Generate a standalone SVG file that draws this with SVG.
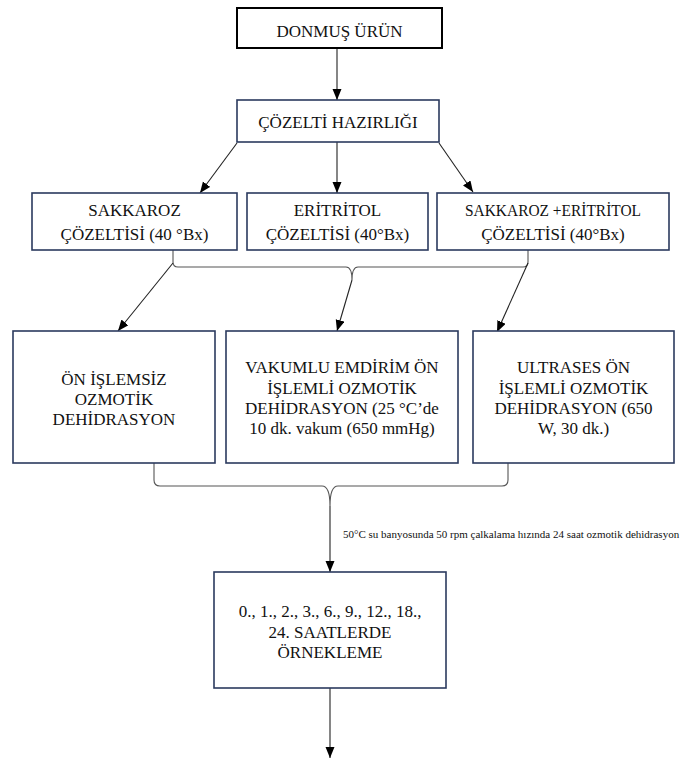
<svg xmlns="http://www.w3.org/2000/svg" width="681" height="762" viewBox="0 0 681 762">
<style>
.box{fill:#fff;stroke:#2b3a5e;stroke-width:1.6}
.box0{fill:#fff;stroke:#000;stroke-width:2}
.t{font-family:"Liberation Serif","Times New Roman",serif;font-size:17px;fill:#111;text-anchor:middle}
.lbl{font-family:"Liberation Serif","Times New Roman",serif;font-size:11px;fill:#111}
.c{fill:none;stroke:#222;stroke-width:1.1}
.b{fill:none;stroke:#555;stroke-width:1.1}
</style>
<defs>
<marker id="ah" markerUnits="userSpaceOnUse" markerWidth="12" markerHeight="10" refX="11" refY="4.5" orient="auto">
<path d="M0,0 L11,4.5 L0,9 z" fill="#000"/>
</marker>
</defs>
<rect width="681" height="762" fill="#fff"/>
<g id="connectors">
<line class="c" x1="337" y1="49" x2="337" y2="100" marker-end="url(#ah)"/>
<line class="c" x1="237" y1="143" x2="200" y2="193" marker-end="url(#ah)"/>
<line class="c" x1="337" y1="142" x2="337" y2="193" marker-end="url(#ah)"/>
<line class="c" x1="439" y1="143" x2="473" y2="192" marker-end="url(#ah)"/>
<path class="b" d="M173,250 L173,262 Q173,267 178,267 L346,267 Q352,267 352,280 Q352,267 358,267 L523,267 Q528,267 528,262 L528,250"/>
<line class="c" x1="173" y1="263" x2="118" y2="331" marker-end="url(#ah)"/>
<line class="c" x1="352" y1="280" x2="337" y2="331" marker-end="url(#ah)"/>
<line class="c" x1="528" y1="263" x2="497" y2="332" marker-end="url(#ah)"/>
<path class="b" d="M154,463 L154,480 Q154,486 160,486 L322,486 Q330,486 330,506 Q330,486 338,486 L502,486 Q508,486 508,480 L508,463"/>
<line class="c" x1="330" y1="506" x2="330" y2="572" marker-end="url(#ah)"/>
<text class="lbl" x="343" y="538">50°C su banyosunda 50 rpm çalkalama hızında 24 saat ozmotik dehidrasyon</text>
<line class="c" x1="330" y1="688" x2="330" y2="758" marker-end="url(#ah)"/>
</g>
<g id="n-donmus">
<rect class="box0" x="237" y="8" width="205" height="40"/>
<text class="t" x="339.5" y="37">DONMUŞ ÜRÜN</text>
</g>
<g id="n-cozelti">
<rect class="box" x="237" y="100" width="202" height="42"/>
<text class="t" x="338" y="128">ÇÖZELTİ HAZIRLIĞI</text>
</g>
<g id="n-sakkaroz">
<rect class="box" x="32" y="193" width="205" height="57"/>
<text class="t" x="134.5" y="216">SAKKAROZ</text>
<text class="t" x="134.5" y="240">ÇÖZELTİSİ (40 °Bx)</text>
</g>
<g id="n-eritritol">
<rect class="box" x="247" y="193" width="181" height="57"/>
<text class="t" x="337.5" y="216">ERİTRİTOL</text>
<text class="t" x="337.5" y="240">ÇÖZELTİSİ (40°Bx)</text>
</g>
<g id="n-sakkaroz-eritritol">
<rect class="box" x="437" y="193" width="232" height="57"/>
<text class="t" x="553" y="216" textLength="176" lengthAdjust="spacingAndGlyphs">SAKKAROZ +ERİTRİTOL</text>
<text class="t" x="553" y="240">ÇÖZELTİSİ (40°Bx)</text>
</g>
<g id="n-onislemsiz">
<rect class="box" x="13" y="331" width="202" height="132"/>
<text class="t" x="114" y="385">ÖN İŞLEMSİZ</text>
<text class="t" x="114" y="405">OZMOTİK</text>
<text class="t" x="114" y="425">DEHİDRASYON</text>
</g>
<g id="n-vakum">
<rect class="box" x="226" y="331" width="232" height="132"/>
<text class="t" x="342" y="373">VAKUMLU EMDİRİM ÖN</text>
<text class="t" x="342" y="393.5">İŞLEMLİ OZMOTİK</text>
<text class="t" x="342" y="413.5">DEHİDRASYON (25 °C’de</text>
<text class="t" x="342" y="434">10 dk. vakum (650 mmHg)</text>
</g>
<g id="n-ultrases">
<rect class="box" x="473" y="331" width="201" height="132"/>
<text class="t" x="573.5" y="373">ULTRASES ÖN</text>
<text class="t" x="573.5" y="393.5">İŞLEMLİ OZMOTİK</text>
<text class="t" x="573.5" y="413.5">DEHİDRASYON (650</text>
<text class="t" x="573.5" y="434">W, 30 dk.)</text>
</g>
<g id="n-ornekleme">
<rect class="box" x="214" y="572" width="232" height="116"/>
<text class="t" x="330" y="617">0., 1., 2., 3., 6., 9., 12., 18.,</text>
<text class="t" x="330" y="637.5">24. SAATLERDE</text>
<text class="t" x="330" y="658">ÖRNEKLEME</text>
</g>
</svg>
